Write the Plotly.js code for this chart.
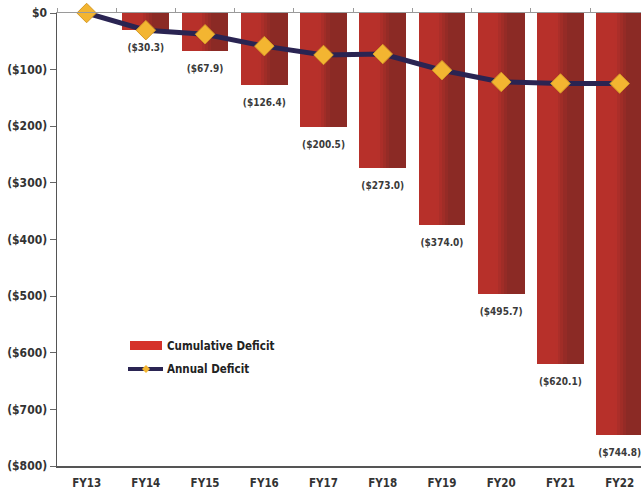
<!DOCTYPE html>
<html>
<head>
<meta charset="utf-8">
<script src="https://cdn.plot.ly/plotly-3.0.1.min.js"></script>
<style>
  html, body { margin: 0; padding: 0; background: #fff; }
  #chart { width: 641px; height: 491px; }
</style>
</head>
<body>
<div id="chart"></div>
<script>
// Fiscal years on the category axis
const years = ['FY13', 'FY14', 'FY15', 'FY16', 'FY17', 'FY18', 'FY19', 'FY20', 'FY21', 'FY22'];
// Cumulative deficit, $ millions (negative = deficit)
const cumulativeDeficit = [0, -30.3, -67.9, -126.4, -200.5, -273.0, -374.0, -495.7, -620.1, -744.8];
// Annual deficit, $ millions
const annualDeficit = [0, -30.3, -37.6, -58.5, -74.1, -72.5, -101.0, -121.7, -124.4, -124.7];
// Y axis ticks
const yTickValues = [0, -100, -200, -300, -400, -500, -600, -700, -800];
const yTickLabels = yTickValues.map(v => v === 0 ? '$0' : '($' + Math.abs(v) + ')');

const FONT = '"DejaVu Sans Condensed", "Liberation Sans Narrow", Arial, sans-serif';
const BAR_W = 0.79;

// money label for a bar end
const fmt = v => v === 0 ? '' : '($' + Math.abs(v).toFixed(1) + ')';

// Bars are built from vertical strips to give the shaded cylinder look:
// a dark base across the whole width, then lighter strips on the left.
const light = [183, 48, 42];
const dark = [139, 42, 37];
function mix(t) {
  const c = light.map((l, i) => Math.round(l + (dark[i] - l) * t));
  return 'rgb(' + c.join(',') + ')';
}

const traces = [];
traces.push({
  type: 'bar', x: years, y: cumulativeDeficit,
  width: BAR_W, offset: -BAR_W / 2,
  marker: { color: mix(1), line: { width: 0 } },
  hoverinfo: 'skip', showlegend: false
});
const N = 16;
for (let k = 0; k < N; k++) {
  const t0 = k / N;
  const centre = (k + 0.5) / N;
  // light until ~40%, ramp to dark by ~65%
  let t = (centre - 0.40) / 0.25;
  t = Math.max(0, Math.min(1, t));
  if (t >= 1) continue;
  traces.push({
    type: 'bar', x: years, y: cumulativeDeficit,
    width: BAR_W / N * 1.08, offset: -BAR_W / 2 + t0 * BAR_W,
    marker: { color: mix(t), line: { width: 0 } },
    hoverinfo: 'skip', showlegend: false
  });
}

// Value labels under each bar end
traces.push({
  type: 'scatter', mode: 'markers+text',
  x: years, y: cumulativeDeficit,
  text: cumulativeDeficit.map(fmt),
  textposition: 'bottom center',
  textfont: { family: FONT, size: 10, color: '#3a3a3a', weight: 'bold' },
  marker: { size: 20, opacity: 0 },
  cliponaxis: false, hoverinfo: 'skip', showlegend: false
});

// Annual deficit line (on the top axis, which carries the boundary ticks)
traces.push({
  type: 'scatter', mode: 'lines+markers',
  x: years, y: annualDeficit, xaxis: 'x2',
  name: 'Annual Deficit',
  line: { color: '#2a2452', width: 5 },
  marker: { symbol: 'diamond', size: 15, color: '#f3b531', line: { color: '#d59a28', width: 1 } },
  cliponaxis: false, showlegend: false
});

// Hand-drawn legend block
const px = x => (x - 57) / 584;
const py = y => (466 - y) / 453;
const shapes = [
  { type: 'rect', xref: 'paper', yref: 'paper', x0: px(130), x1: px(162), y0: py(350), y1: py(341),
    fillcolor: '#d5322a', line: { width: 0 } },
  { type: 'line', xref: 'paper', yref: 'paper', x0: px(128), x1: px(163), y0: py(369), y1: py(369),
    line: { color: '#2a2452', width: 4 } },
  { type: 'path', xref: 'paper', yref: 'paper',
    path: `M ${px(146)} ${py(365)} L ${px(150)} ${py(369)} L ${px(146)} ${py(373)} L ${px(142)} ${py(369)} Z`,
    fillcolor: '#f3b531', line: { width: 0 } }
];
const annotations = [
  { xref: 'paper', yref: 'paper', x: px(165), y: py(345.5), xanchor: 'left', yanchor: 'middle',
    text: 'Cumulative Deficit', showarrow: false,
    font: { family: FONT, size: 11.5, color: '#222', weight: 'bold' } },
  { xref: 'paper', yref: 'paper', x: px(165), y: py(369), xanchor: 'left', yanchor: 'middle',
    text: 'Annual Deficit', showarrow: false,
    font: { family: FONT, size: 11.5, color: '#222', weight: 'bold' } }
];

const xRange = [-0.5, 9.36];
const layout = {
  width: 641, height: 491,
  margin: { l: 57, r: 0, t: 13, b: 25, pad: 0 },
  paper_bgcolor: '#fff', plot_bgcolor: '#fff',
  barmode: 'overlay', bargap: 0,
  showlegend: false,
  font: { family: FONT, color: '#333' },
  xaxis: {
    type: 'category', range: xRange, fixedrange: true,
    showline: true, linecolor: '#555', linewidth: 1.5,
    ticks: '', showgrid: false, zeroline: false,
    ticklabelstandoff: 6,
    tickfont: { family: FONT, size: 11.5, color: '#333', weight: 'bold' }
  },
  xaxis2: {
    type: 'category', range: xRange, overlaying: 'x', side: 'top',
    categoryarray: years, categoryorder: 'array',
    showline: true, linecolor: '#9a9a9a', linewidth: 1.5,
    ticks: 'outside', ticklen: 4, tickwidth: 1, tickcolor: '#9a9a9a',
    tickson: 'boundaries', showticklabels: false, showgrid: false, zeroline: false
  },
  yaxis: {
    range: [-800, 0], fixedrange: true,
    tickvals: yTickValues, ticktext: yTickLabels,
    showline: true, linecolor: '#555', linewidth: 1.5,
    ticks: 'outside', ticklen: 6, tickwidth: 1, tickcolor: '#666',
    showgrid: false, zeroline: false,
    tickfont: { family: FONT, size: 12, color: '#333', weight: 'bold' }
  },
  shapes: shapes,
  annotations: annotations
};

Plotly.newPlot('chart', traces, layout, { staticPlot: true, displayModeBar: false });
</script>
</body>
</html>
